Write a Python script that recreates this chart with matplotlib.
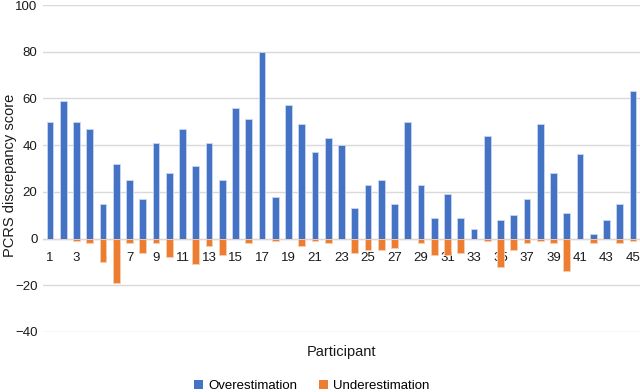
import matplotlib
matplotlib.use("Agg")
import matplotlib.pyplot as plt
import numpy as np

plt.rcParams['font.family'] = ['Liberation Sans', 'DejaVu Sans']

participants = list(range(1, 46))
overestimation = [50, 59, 50, 47, 15, 32, 25, 17, 41, 28,
                  47, 31, 41, 25, 56, 51, 80, 18, 57, 49,
                  37, 43, 40, 13, 23, 25, 15, 50, 23, 9,
                  19, 9, 4, 44, 8, 10, 17, 49, 28, 11,
                  36, 2, 8, 15, 63]
underestimation = [0, 0, -1, -2, -10, -19, -2, -6, -2, -8,
                   0, -11, -3, -7, 0, -2, 0, -1, 0, -3,
                   -1, -2, 0, -6, -5, -5, -4, 0, -2, -7,
                   -7, -6, 0, -1, -12, -5, -2, -1, -2, -14,
                   0, -2, 0, -2, -1]
tick_labels = [str(p) if p % 2 == 1 else "" for p in participants]
y_ticks = [-40, -20, 0, 20, 40, 60, 80, 100]

blue = "#4472C4"
orange = "#ED7D31"

fig = plt.figure(figsize=(6.4, 3.92), dpi=100)
ax = fig.add_axes([43/640, 1-332/392, (640-43)/640, (332-5)/392])

x = np.array(participants)
ax.bar(x, overestimation, width=0.5, color=blue, edgecolor="#c9d6ef", linewidth=0.6,
       label="Overestimation", zorder=3)
ax.bar(x, underestimation, width=0.5, color=orange, edgecolor="#f7cfb3", linewidth=0.6,
       label="Underestimation", zorder=3)

ax.set_xlim(0.47, 45.53)
ax.set_ylim(-40, 100)
ax.set_yticks(y_ticks)
ax.set_yticklabels([("\u2212" + str(-v)) if v < 0 else str(v) for v in y_ticks])
ax.yaxis.grid(True, color="#d9d9d9", linewidth=1.0, zorder=0)
ax.set_axisbelow(True)
for s in ax.spines.values():
    s.set_visible(False)
ax.spines['bottom'].set_visible(True)
ax.spines['bottom'].set_position(('data', 0))
ax.spines['bottom'].set_color("#d9d9d9")
ax.spines['bottom'].set_linewidth(1.0)
ax.spines['bottom'].set_zorder(2)

ax.set_xticks(x)
ax.set_xticklabels(tick_labels)
ax.tick_params(axis='x', length=0, pad=9.5, labelsize=9.5, colors="#1a1a1a")
ax.tick_params(axis='y', length=0, pad=4, labelsize=9.5, colors="#1a1a1a")

fig.text(10/640, 1-175/392, "PCRS discrepancy score", rotation=90, ha='center', va='center',
         fontsize=10.5, color="#1a1a1a")
fig.text(342/640, 1-352/392, "Participant", ha='center', va='center', fontsize=10.5, color="#1a1a1a")

handles, labels = ax.get_legend_handles_labels()
leg = fig.legend(handles, labels, loc='center', bbox_to_anchor=(312/640, 1-386/392), ncol=2,
                 frameon=False, fontsize=9.5, handlelength=0.7, handleheight=0.7,
                 columnspacing=1.6, handletextpad=0.4)
for h in leg.legend_handles:
    h.set_edgecolor('none')

fig.savefig("out.png", dpi=100)
